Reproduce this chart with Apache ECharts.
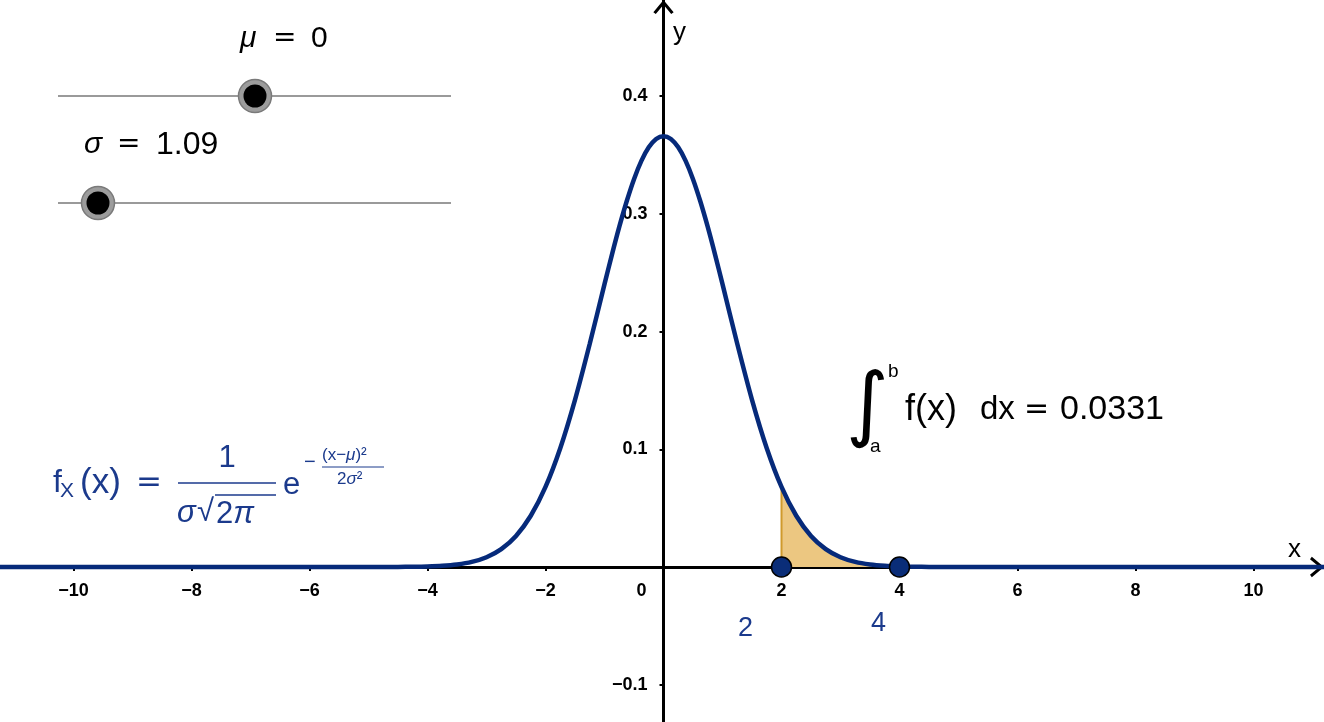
<!DOCTYPE html>
<html>
<head>
<meta charset="utf-8">
<title>Normal distribution</title>
<script src="https://cdn.jsdelivr.net/npm/echarts@6/dist/echarts.min.js"></script>
<style>
  html, body { margin: 0; padding: 0; background: #fff; }
  #chart { width: 1324px; height: 722px; }
</style>
</head>
<body>
<div id="chart"></div>
<script>
// density curve f(x), mu = 0, sigma = 1.09
const curveX = [-11.5, -5, -4.75, -4.5, -4.25, -4, -3.75, -3.5, -3.25, -3, -2.75, -2.5, -2.25, -2, -1.75, -1.5, -1.25, -1,
  -0.875, -0.75, -0.625, -0.5, -0.375, -0.25, -0.125, 0, 0.125, 0.25, 0.375, 0.5, 0.625, 0.75, 0.875,
  1, 1.25, 1.5, 1.75, 2, 2.25, 2.5, 2.75, 3, 3.25, 3.5, 3.75, 4, 4.25, 4.5, 4.75, 5, 11.5]
const curveY = [0, 0.00001, 0.00003, 0.00007, 0.00018, 0.00044, 0.00098, 0.00211, 0.00429, 0.00829, 0.0152, 0.0264, 0.0435, 0.068, 0.1009, 0.142, 0.1896, 0.2403,
  0.2652, 0.2889, 0.3105, 0.3295, 0.345, 0.3565, 0.3636, 0.366, 0.3636, 0.3565, 0.345, 0.3295, 0.3105, 0.2889, 0.2652,
  0.2403, 0.1896, 0.142, 0.1009, 0.068, 0.0435, 0.0264, 0.0152, 0.00829, 0.00429, 0.00211, 0.00098, 0.00044, 0.00018, 0.00007, 0.00003, 0.00001, 0]

// shaded integral region a = 2 .. b = 4
const areaX = [2, 2, 2.25, 2.5, 2.75, 3, 3.25, 3.5, 3.75, 4, 4]
const areaY = [0, 0.068, 0.0435, 0.0264, 0.0152, 0.00829, 0.00429, 0.00211, 0.00098, 0.00044, 0]

// points A, B on the x axis and their labels
const pointX = [2, 4]
const pointY = [0, 0]
const pointLabels = ['2', '4']

// tick values
const xTicks = [-10, -8, -6, -4, -2, 2, 4, 6, 8, 10]
const xLabels = [-10, -8, -6, -4, -2, 0, 2, 4, 6, 8, 10]
const yTicks = [-0.1, 0.1, 0.2, 0.3, 0.4]

const BLUE = '#062a7a'
const TXT_BLUE = '#1b3a8c'
const FONT = "'Liberation Sans', Arial, sans-serif"
const chevron = 'path://M0,12 L10,0 L20,12 L17.6,13.8 L10,4.6 L2.4,13.8 Z'

const minus = s => String(s).replace('-', '\u2212')

const chart = echarts.init(document.getElementById('chart'))

const txt = (x, y, text, size, color, extra) => ({
  type: 'text', x: x, y: y, z: 10,
  style: Object.assign({
    text: text, font: size + 'px ' + FONT, fill: color,
    align: 'left', verticalAlign: 'middle', textAlign: 'left', textVerticalAlign: 'middle'
  }, extra || {})
})
const ital = size => ({ rich: { i: { fontStyle: 'italic', fontSize: size, fontFamily: FONT } } })
const eq = (x, y, size, color) => txt(x, y, '=', size, color, { font: size + 'px DejaVu Sans' })

const sliderLine = y => ({ type: 'line', z: 10, shape: { x1: 58, y1: y, x2: 451, y2: y }, style: { stroke: '#9a9a9a', lineWidth: 2 } })
const knob = (x, y) => [
  { type: 'circle', z: 11, shape: { cx: x, cy: y, r: 16.5 }, style: { fill: '#9c9c9c', stroke: '#7a7a7a', lineWidth: 1.5 } },
  { type: 'circle', z: 12, shape: { cx: x, cy: y, r: 11.5 }, style: { fill: '#000' } }
]

const tickLabel = { color: '#000', fontWeight: 'bold', fontSize: 18, fontFamily: FONT, textBorderWidth: 0 }

chart.setOption({
  backgroundColor: '#fff',
  animation: false,
  grid: { left: 0, right: 0, top: 0, bottom: 0, containLabel: false, outerBoundsMode: 'none' },
  xAxis: {
    type: 'value',
    min: -11.246,
    max: 11.195,
    splitLine: { show: false },
    axisLine: {
      onZero: true,
      lineStyle: { color: '#000', width: 3 },
      symbol: ['none', chevron],
      symbolSize: [22, 14],
      symbolOffset: [0, -7]
    },
    axisTick: { show: true, customValues: xTicks, length: 4, lineStyle: { color: '#000', width: 2 } },
    axisLabel: { show: false }
  },
  yAxis: {
    type: 'value',
    min: -0.1317,
    max: 0.4817,
    splitLine: { show: false },
    axisLine: {
      onZero: true,
      lineStyle: { color: '#000', width: 3 },
      symbol: ['none', chevron],
      symbolSize: [22, 14],
      symbolOffset: [0, -7]
    },
    axisTick: { show: true, customValues: yTicks, length: 4, lineStyle: { color: '#000', width: 2 } },
    axisLabel: { show: false }
  },
  series: [
    {
      // x tick labels, placed on the axis through the scale
      type: 'scatter',
      data: xLabels.map(v => [v, 0]),
      symbolSize: 0,
      silent: true,
      z: 1,
      itemStyle: { opacity: 1 },
      label: Object.assign({
        show: true,
        position: 'inside',
        formatter: p => minus(p.value[0])
      }, tickLabel),
      labelLayout: p => ({ dx: p.dataIndex === 5 ? -22 : 0, dy: 24 })
    },
    {
      // y tick labels
      type: 'scatter',
      data: yTicks.map(v => [0, v]),
      symbolSize: 0,
      silent: true,
      z: 1,
      itemStyle: { opacity: 1 },
      label: Object.assign({
        show: true,
        position: 'left',
        distance: 16,
        formatter: p => minus(p.value[1].toFixed(1))
      }, tickLabel)
    },
    {
      // shaded integral
      type: 'line',
      data: areaX.map((x, i) => [x, areaY[i]]),
      showSymbol: false,
      z: 3,
      lineStyle: { color: '#cf9a2c', width: 2 },
      areaStyle: { color: '#ecc781', opacity: 1 }
    },
    {
      type: 'line',
      data: curveX.map((x, i) => [x, curveY[i]]),
      showSymbol: false,
      smooth: 0.3,
      z: 4,
      lineStyle: { color: BLUE, width: 4.5 }
    },
    {
      type: 'scatter',
      data: pointX.map((x, i) => [x, pointY[i]]),
      symbolSize: 20,
      z: 5,
      itemStyle: { color: '#0a2d78', borderColor: '#000', borderWidth: 1.5, opacity: 1 },
      label: {
        show: true,
        formatter: p => pointLabels[p.dataIndex],
        position: 'inside',
        color: TXT_BLUE,
        fontSize: 27,
        fontFamily: FONT
      },
      labelLayout: p => ({ dx: p.dataIndex === 0 ? -36 : -21, dy: p.dataIndex === 0 ? 62 : 57 })
    }
  ],
  graphic: [
    // axis names
    txt(673, 33, 'y', 26, '#000'),
    txt(1288, 550, 'x', 26, '#000'),
    // sliders
    txt(240, 39, '{i|\u03bc}', 30, '#000', ital(30)),
    eq(273, 39, 28, '#000'),
    txt(311, 39, '0', 30, '#000'),
    sliderLine(96),
    ...knob(255, 96),
    txt(84, 145, '{i|\u03c3}', 30, '#000', ital(30)),
    eq(117, 145, 28, '#000'),
    txt(156, 145, '1.09', 32, '#000'),
    sliderLine(203),
    ...knob(98, 203),
    // formula f_X(x) = 1/(sigma sqrt(2 pi)) e^(-(x-mu)^2 / (2 sigma^2))
    txt(53, 483, 'f', 32, TXT_BLUE),
    txt(60, 491, 'X', 21, TXT_BLUE),
    txt(80, 483, '(x)', 35, TXT_BLUE),
    eq(136, 483, 31, TXT_BLUE),
    txt(227, 458, '1', 31, TXT_BLUE, { align: 'center', textAlign: 'center' }),
    { type: 'line', z: 10, shape: { x1: 178, y1: 483, x2: 276, y2: 483 }, style: { stroke: TXT_BLUE, lineWidth: 1.6 } },
    txt(177, 513, '{i|\u03c3}', 31, TXT_BLUE, ital(31)),
    txt(197, 512, '\u221a', 31, TXT_BLUE),
    { type: 'line', z: 10, shape: { x1: 215, y1: 495, x2: 276, y2: 495 }, style: { stroke: TXT_BLUE, lineWidth: 1.5 } },
    txt(216, 514, '2{i|\u03c0}', 31, TXT_BLUE, ital(31)),
    txt(283, 485, 'e', 31, TXT_BLUE),
    txt(304, 462, '\u2212', 20, TXT_BLUE),
    txt(322, 455, '(x\u2212{i|\u03bc})\u00b2', 17, TXT_BLUE, ital(17)),
    { type: 'line', z: 10, shape: { x1: 322, y1: 467, x2: 384, y2: 467 }, style: { stroke: TXT_BLUE, lineWidth: 1 } },
    txt(337, 479, '2{i|\u03c3}\u00b2', 17, TXT_BLUE, ital(17)),
    // integral
    txt(846, 410, '\u222b', 82, '#000', { font: '82px DejaVu Sans' }),
    txt(888, 372, 'b', 19, '#000'),
    txt(870, 447, 'a', 19, '#000'),
    txt(905, 410, 'f(x)', 36, '#000'),
    txt(980, 410, 'dx', 33, '#000'),
    eq(1024, 410, 30, '#000'),
    txt(1060, 410, '0.0331', 34, '#000')
  ]
})
</script>
</body>
</html>
